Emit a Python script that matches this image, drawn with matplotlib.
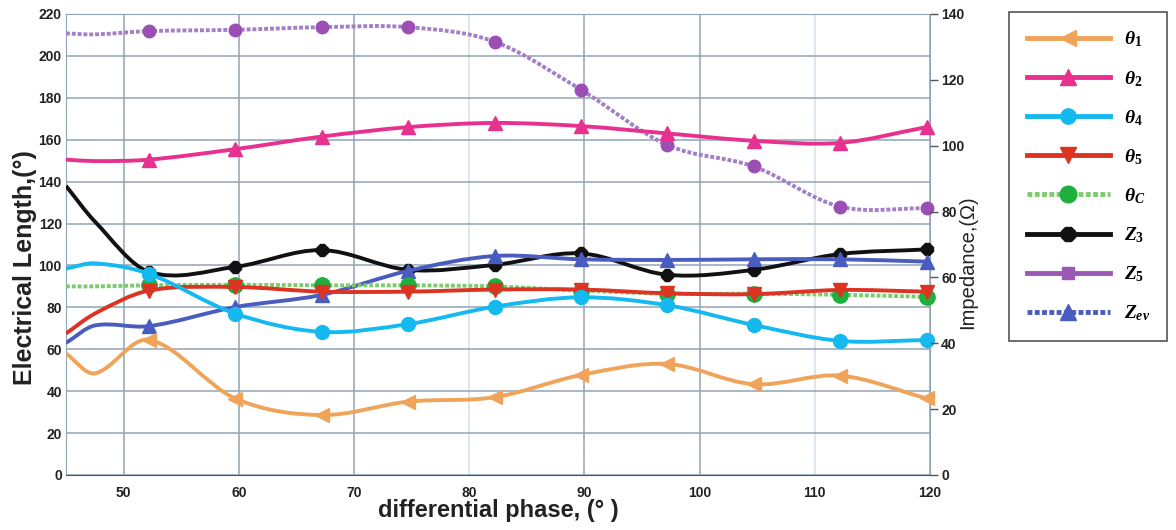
import matplotlib
matplotlib.use("Agg")
import matplotlib.pyplot as plt
from matplotlib.path import Path
from matplotlib.patches import PathPatch
from matplotlib.lines import Line2D

# data (first two points carry no marker)
phase = [45, 47.5, 52.2, 59.7, 67.2, 74.7, 82.2, 89.7, 97.2, 104.7, 112.2, 119.7]

# electrical lengths, degrees (left axis)
theta1 = [58, 48.5, 64.5, 36.5, 28.6, 35, 37.1, 47.7, 53, 43.3, 47.4, 36.6]
theta2 = [150.5, 149.8, 150.5, 155.5, 161.5, 166, 168, 166.5, 163, 159.5, 158.5, 166]
theta4 = [98.5, 101, 96, 77, 68.3, 72, 80.3, 84.8, 81, 71.6, 64, 64.4]
theta5 = [67.5, 77, 88, 89.7, 87.5, 87.5, 88.5, 88.5, 86.7, 86.3, 88.3, 87.5]
thetaC = [90, 90, 90.5, 90.8, 90.5, 90.5, 90, 88, 86.5, 86.5, 86, 85]

# impedances, ohm (right axis)
z3 = [87.8, 77, 61.7, 63.2, 68.3, 62.3, 63.8, 67.3, 60.8, 62.3, 67.1, 68.5]
z5 = [134.1, 133.8, 134.8, 135.2, 136, 136, 131.6, 117, 100.2, 93.7, 81.5, 81]
zev = [40.1, 45.4, 45.2, 51, 54.7, 62, 66.5, 65.5, 65.3, 65.5, 65.5, 64.8]

x_ticks = [50, 60, 70, 80, 90, 100, 110, 120]
left_ticks = list(range(0, 221, 20))
right_ticks = list(range(0, 141, 20))

legend_labels = [r"$\theta_1$", r"$\theta_2$", r"$\theta_4$", r"$\theta_5$",
                 r"$\theta_C$", r"$Z_3$", r"$Z_5$", r"$Z_{ev}$"]

plt.rcParams["font.family"] = ["Liberation Sans", "DejaVu Sans"]
plt.rcParams["mathtext.fontset"] = "custom"
plt.rcParams["mathtext.it"] = "Liberation Serif:italic:bold"
plt.rcParams["mathtext.rm"] = "Liberation Serif:bold"


def smooth_path(xs, ys):
    # cubic bezier through the points (catmull-rom style tangents)
    n = len(xs)
    m = []
    for i in range(n):
        if i == 0:
            m.append((ys[1] - ys[0]) / (xs[1] - xs[0]))
        elif i == n - 1:
            m.append((ys[-1] - ys[-2]) / (xs[-1] - xs[-2]))
        else:
            m.append((ys[i + 1] - ys[i - 1]) / (xs[i + 1] - xs[i - 1]))
    verts = [(xs[0], ys[0])]
    codes = [Path.MOVETO]
    for i in range(n - 1):
        dx = (xs[i + 1] - xs[i]) / 3.0
        verts += [(xs[i] + dx, ys[i] + m[i] * dx),
                  (xs[i + 1] - dx, ys[i + 1] - m[i + 1] * dx),
                  (xs[i + 1], ys[i + 1])]
        codes += [Path.CURVE4] * 3
    return Path(verts, codes)


fig = plt.figure(figsize=(11.76, 5.30), dpi=100)
ax = fig.add_axes([0.0561, 0.1038, 0.7347, 0.8698])
ax2 = ax.twinx()
ax.set_autoscale_on(False)
ax2.set_autoscale_on(False)
ax.set_xlim(45, 120)
ax.set_ylim(0, 220)
ax2.set_ylim(0, 140)

series = [
    # values, right axis?, color, linestyle, marker, markersize, marker color
    (z5, True, "#A27FC6", (0, (1.0, 0.5)), "o", 9, "#9B4FB5"),
    (theta2, False, "#E8318F", "-", "^", 10, "#E8318F"),
    (z3, True, "#111111", "-", "8", 9, "#111111"),
    (zev, True, "#4A5CC0", "-", "^", 10, "#4A5CC0"),
    (thetaC, False, "#7CCB6E", (0, (1.0, 0.5)), "o", 11, "#1EAF3C"),
    (theta5, False, "#DD3322", "-", "v", 10, "#DD3322"),
    (theta1, False, "#F0A45A", "-", "<", 10, "#F0A45A"),
    (theta4, False, "#14B9F0", "-", "o", 10, "#14B9F0"),
]

for k, (vals, right, color, ls, marker, ms, mcolor) in enumerate(series):
    tr = ax2.transData if right else ax.transData
    patch = PathPatch(smooth_path(phase, vals), fill=False, edgecolor=color,
                      linewidth=2.8, linestyle=ls, transform=tr, zorder=3 + k)
    ax.add_patch(patch)
    ax.plot(phase[2:], vals[2:], ls="none", marker=marker, ms=ms,
            color=mcolor, transform=tr, zorder=3 + k, clip_on=False)

# grid
ax.set_xticks(x_ticks)
ax.set_yticks(left_ticks)
ax.grid(True, color="#8FA5B5", linewidth=1.1, zorder=0)
for gl, xt in zip(ax.get_xgridlines(), x_ticks):
    if xt in (80, 110):
        gl.set_color("#D3E0EA")
ax.set_axisbelow(True)

for sp in ax.spines.values():
    sp.set_color("#8FA5B5")
ax.spines["bottom"].set_color("#555555")
for sp in ax2.spines.values():
    sp.set_visible(False)

ax.tick_params(axis="both", length=0, labelsize=10)
ax.tick_params(axis="x", pad=8)
ax.tick_params(axis="y", pad=3)
for lbl in ax.get_xticklabels() + ax.get_yticklabels():
    lbl.set_fontweight("bold")
    lbl.set_color("#222222")

ax2.set_yticks(right_ticks)
ax2.tick_params(axis="y", length=6, width=1, color="#555555", labelsize=10, pad=2)
for lbl in ax2.get_yticklabels():
    lbl.set_fontweight("bold")
    lbl.set_color("#222222")

ax.set_xlabel("differential phase, (° )", fontsize=17, fontweight="bold",
              color="#222222")
ax.xaxis.set_label_coords(0.5, -0.053)
ax.set_ylabel("Electrical Length,(°)", fontsize=18, fontweight="bold",
              color="#222222")
ax.yaxis.set_label_coords(-0.034, 0.45)
ax2.set_ylabel("Impedance,(Ω)", fontsize=14.5, color="#222222")
ax2.yaxis.set_label_coords(1.033, 0.462)

handles = [
    Line2D([], [], color="#F0A45A", lw=3.5, marker="<", ms=11),
    Line2D([], [], color="#E8318F", lw=3.5, marker="^", ms=11),
    Line2D([], [], color="#14B9F0", lw=3.5, marker="o", ms=11),
    Line2D([], [], color="#DD3322", lw=3.5, marker="v", ms=11),
    Line2D([], [], color="#7CCB6E", lw=3.5, ls=(0, (1.0, 0.5)), marker="o",
           ms=12, mfc="#1EAF3C", mec="#1EAF3C"),
    Line2D([], [], color="#111111", lw=3.5, marker="8", ms=11),
    Line2D([], [], color="#9B59B6", lw=3.5, marker="s", ms=9),
    Line2D([], [], color="#4A5CC0", lw=3.5, ls=(0, (1.0, 0.5)), marker="^",
           ms=11, mfc="#4A5CC0", mec="#4A5CC0"),
]
leg = fig.legend(handles, legend_labels, loc="upper left",
                 bbox_to_anchor=(0.858, 0.977), fontsize=14, numpoints=1,
                 handlelength=4.3, handletextpad=0.7, labelspacing=1.0,
                 borderpad=0.9, borderaxespad=0, fancybox=False,
                 edgecolor="#555555", framealpha=1)
leg.get_frame().set_linewidth(1.2)

fig.savefig("out.png", dpi=100)
